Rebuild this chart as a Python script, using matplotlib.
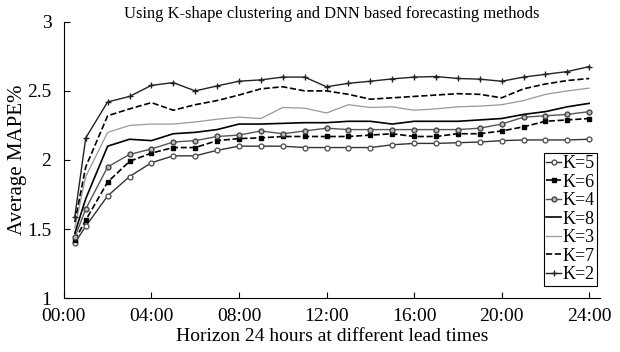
import matplotlib.pyplot as plt

# lead times in hours
HOURS = [0.5] + list(range(1, 25))

K5 = [1.40, 1.52, 1.74, 1.88, 1.98, 2.03, 2.03, 2.07, 2.10, 2.10, 2.10, 2.09, 2.09,
      2.09, 2.09, 2.11, 2.12, 2.12, 2.125, 2.13, 2.14, 2.145, 2.145, 2.145, 2.15]
K6 = [1.42, 1.565, 1.84, 1.99, 2.05, 2.09, 2.09, 2.14, 2.155, 2.16, 2.17, 2.17, 2.17,
      2.17, 2.18, 2.19, 2.17, 2.17, 2.19, 2.19, 2.21, 2.24, 2.28, 2.29, 2.30]
K4 = [1.44, 1.645, 1.95, 2.04, 2.08, 2.13, 2.14, 2.17, 2.18, 2.21, 2.19, 2.21, 2.23,
      2.22, 2.22, 2.22, 2.22, 2.22, 2.22, 2.23, 2.26, 2.31, 2.32, 2.33, 2.35]
K8 = [1.47, 1.72, 2.10, 2.15, 2.14, 2.19, 2.20, 2.22, 2.26, 2.26, 2.265, 2.27, 2.27,
      2.28, 2.28, 2.26, 2.28, 2.28, 2.28, 2.29, 2.30, 2.33, 2.35, 2.385, 2.41]
K3 = [1.51, 1.88, 2.20, 2.25, 2.26, 2.26, 2.275, 2.295, 2.31, 2.30, 2.38, 2.375, 2.34,
      2.40, 2.38, 2.385, 2.36, 2.37, 2.385, 2.39, 2.40, 2.43, 2.475, 2.50, 2.52]
K7 = [1.55, 1.95, 2.32, 2.37, 2.415, 2.36, 2.40, 2.43, 2.47, 2.515, 2.53, 2.50, 2.50,
      2.475, 2.44, 2.45, 2.46, 2.47, 2.48, 2.475, 2.45, 2.515, 2.55, 2.575, 2.59]
K2 = [1.59, 2.16, 2.42, 2.46, 2.54, 2.56, 2.50, 2.536, 2.57, 2.58, 2.60, 2.60, 2.53,
      2.555, 2.57, 2.587, 2.60, 2.604, 2.59, 2.585, 2.57, 2.60, 2.62, 2.64, 2.676]

XTICKS = [0, 4, 8, 12, 16, 20, 24]
XTICK_LABELS = ["00:00", "04:00", "08:00", "12:00", "16:00", "20:00", "24:00"]
YTICKS = [1, 1.5, 2, 2.5, 3]
YTICK_LABELS = ["1", "1.5", "2", "2.5", "3"]

plt.rcParams["font.family"] = "Liberation Serif"

fig = plt.figure(figsize=(6.2, 3.52), dpi=100)
ax = fig.add_axes([0.103, 0.153, 0.865, 0.785])

ax.plot(HOURS, K5, "-o", color="#333333", lw=1.0, markersize=3.5,
        markerfacecolor="white", markeredgecolor="#555555", markeredgewidth=1.0, label="K=5")
ax.plot(HOURS, K6, "--s", color="black", lw=1.2, markersize=2.5,
        markerfacecolor="black", label="K=6")
ax.plot(HOURS, K4, "-o", color="#555555", lw=1.0, markersize=3.5,
        markerfacecolor="#bbbbbb", markeredgecolor="#444444", markeredgewidth=1.0, label="K=4")
ax.plot(HOURS, K8, "-", color="black", lw=1.2, label="K=8")
ax.plot(HOURS, K3, "-", color="#999999", lw=0.9, label="K=3")
ax.plot(HOURS, K7, "--", color="black", lw=1.2, label="K=7")
ax.plot(HOURS, K2, "-+", color="#222222", lw=1.0, markersize=4.5, markeredgewidth=1.0, label="K=2")

ax.set_xlim(0, 24.5)
ax.set_ylim(1, 3)
ax.set_xticks(XTICKS)
ax.set_xticklabels(XTICK_LABELS)
ax.set_yticks(YTICKS)
ax.set_yticklabels(YTICK_LABELS)
ax.tick_params(direction="in", length=4, labelsize=14, width=0.8)
ax.tick_params(axis="x", pad=7)
ax.tick_params(axis="y", pad=9)
ax.spines["top"].set_visible(False)
ax.spines["right"].set_visible(False)

ax.set_xlabel("Horizon 24 hours at different lead times", fontsize=14, labelpad=2)
ax.set_ylabel("Average MAPE%", fontsize=15, labelpad=0)
ax.set_title("Using K-shape clustering and DNN based forecasting methods", fontsize=11.9, pad=2)

leg = ax.legend(loc="lower right", bbox_to_anchor=(0.995, 0.045), fontsize=13,
                handlelength=0.8, handletextpad=0.1, labelspacing=0.08,
                borderpad=0.15, borderaxespad=0.0, fancybox=False, framealpha=1)
leg.get_frame().set_edgecolor("black")
leg.get_frame().set_linewidth(0.8)

fig.savefig("out.png", dpi=100)
